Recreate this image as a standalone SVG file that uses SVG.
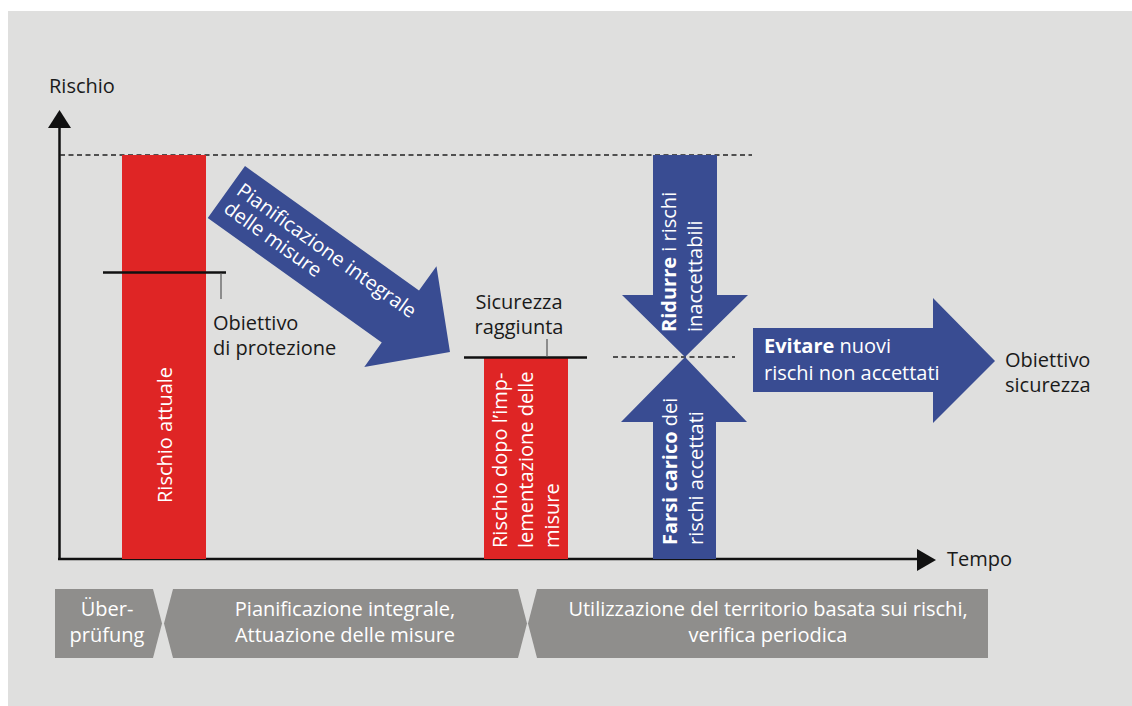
<svg xmlns="http://www.w3.org/2000/svg" width="1132" height="706" viewBox="0 0 1132 706">
  <defs>
    <style>
      .t { font-family: "Open Sans", "Liberation Sans", sans-serif; font-size: 20px; }
      .dark { fill: #1a1a1a; }
      .light { fill: #ffffff; }
      .b { font-weight: bold; }
      .red { fill: #df2525; }
      .blue { fill: #394c92; }
      .band { fill: #8f8e8c; }
      .axis { stroke: #111111; stroke-width: 2.5; fill: none; }
      .dash { stroke: #222222; stroke-width: 1.3; stroke-dasharray: 5 3.5; fill: none; }
      .level { stroke: #111111; stroke-width: 2.5; }
      .tick { stroke: #555555; stroke-width: 1.2; }
    </style>
  </defs>

  <!-- backdrop -->
  <rect x="8" y="11" width="1124" height="695" fill="#dfdfde"/>

  <!-- axes and reference lines -->
  <g id="connectors">
    <line class="axis" x1="59.5" y1="126" x2="59.5" y2="559"/>
    <polygon points="59.5,110 71,128 48,128" fill="#111111"/>
    <line class="axis" x1="58" y1="559" x2="920" y2="559"/>
    <polygon points="936,560 917,549 917,571" fill="#111111"/>
    <line class="dash" x1="60" y1="155" x2="752" y2="155"/>
    <line class="dash" x1="613" y1="357" x2="735" y2="357"/>
  </g>

  <g id="axis-labels">
    <text class="t dark" x="49" y="93">Rischio</text>
    <text class="t dark" x="947" y="566">Tempo</text>
  </g>

  <!-- current risk bar -->
  <g id="rischio-attuale">
    <rect class="red" x="122" y="155" width="84" height="404"/>
    <text class="t light" transform="translate(172,503) rotate(-90)">Rischio attuale</text>
  </g>

  <!-- protection objective -->
  <g id="obiettivo-protezione">
    <line class="level" x1="103" y1="272.5" x2="226" y2="272.5"/>
    <line class="tick" x1="221" y1="273" x2="221" y2="299"/>
    <text class="t dark" x="213" y="330">Obiettivo</text>
    <text class="t dark" x="213" y="355">di protezione</text>
  </g>

  <!-- diagonal planning arrow -->
  <g id="pianificazione" transform="translate(245,166) rotate(35.6)">
    <polygon class="blue" points="0,0 214,0 214,-30 275,32 214,94 214,64 0,64"/>
    <text class="t light" x="8" y="28">Pianificazione integrale</text>
    <text class="t light" x="8" y="50">delle misure</text>
  </g>

  <!-- residual risk bar -->
  <g id="rischio-dopo">
    <rect class="red" x="484" y="358" width="84" height="201"/>
    <text class="t light" transform="translate(507,548) rotate(-90)">Rischio dopo l’imp-</text>
    <text class="t light" transform="translate(533,548) rotate(-90)">lementazione delle</text>
    <text class="t light" transform="translate(559,548) rotate(-90)">misure</text>
  </g>

  <!-- safety reached -->
  <g id="sicurezza-raggiunta">
    <line class="level" x1="464" y1="357.5" x2="587" y2="357.5"/>
    <line class="tick" x1="547" y1="339" x2="547" y2="357"/>
    <text class="t dark" x="519" y="309" text-anchor="middle">Sicurezza</text>
    <text class="t dark" x="519" y="334" text-anchor="middle">raggiunta</text>
  </g>

  <!-- reduce unacceptable risks -->
  <g id="ridurre">
    <polygon class="blue" points="653,155 717,155 717,295 748,295 685,357 622,295 653,295"/>
    <text class="t light" transform="translate(676,332) rotate(-90)"><tspan class="b">Ridurre</tspan> i rischi</text>
    <text class="t light" transform="translate(702,332) rotate(-90)">inaccettabili</text>
  </g>

  <!-- bear accepted risks -->
  <g id="farsi-carico">
    <polygon class="blue" points="685,357 747,422 716,422 716,559 653,559 653,422 621,422"/>
    <text class="t light" transform="translate(677,545) rotate(-90)"><tspan class="b">Farsi carico</tspan> dei</text>
    <text class="t light" transform="translate(703,545) rotate(-90)">rischi accettati</text>
  </g>

  <!-- avoid new risks -->
  <g id="evitare">
    <polygon class="blue" points="753,328 933,328 933,298 995,361 933,423 933,392 753,392"/>
    <text class="t light" x="764" y="353"><tspan class="b">Evitare</tspan> nuovi</text>
    <text class="t light" x="764" y="380">rischi non accettati</text>
  </g>

  <g id="obiettivo-sicurezza">
    <text class="t dark" x="1005" y="367">Obiettivo</text>
    <text class="t dark" x="1005" y="392">sicurezza</text>
  </g>

  <!-- phase bands -->
  <g id="fase-verifica">
    <polygon class="band" points="55,589 153,589 162,623.5 153,658 55,658"/>
    <text class="t light" x="107" y="616" text-anchor="middle">Über-</text>
    <text class="t light" x="107" y="642" text-anchor="middle">prüfung</text>
  </g>
  <g id="fase-pianificazione">
    <polygon class="band" points="173,589 518,589 527,623.5 518,658 173,658 164,623.5"/>
    <text class="t light" x="345" y="616" text-anchor="middle">Pianificazione integrale,</text>
    <text class="t light" x="345" y="642" text-anchor="middle">Attuazione delle misure</text>
  </g>
  <g id="fase-utilizzazione">
    <polygon class="band" points="537,589 988,589 988,658 537,658 528,623.5"/>
    <text class="t light" x="768" y="616" text-anchor="middle">Utilizzazione del territorio basata sui rischi,</text>
    <text class="t light" x="768" y="642" text-anchor="middle">verifica periodica</text>
  </g>
</svg>
